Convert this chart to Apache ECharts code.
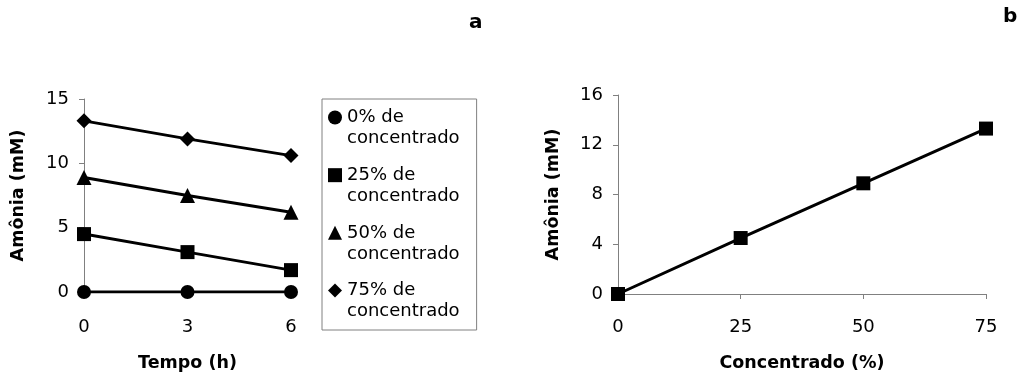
<!DOCTYPE html>
<html>
<head>
<meta charset="utf-8">
<script src="https://cdn.jsdelivr.net/npm/echarts@6/dist/echarts.min.js"></script>
<style>
html,body{margin:0;padding:0;background:#fff;}
#chart{width:1021px;height:379px;}
</style>
</head>
<body>
<div id="chart"></div>
<script>
// ---- Data (chart a) ----
const tempo = [0, 3, 6];
const seriesNames = ['0% de\nconcentrado', '25% de\nconcentrado', '50% de\nconcentrado', '75% de\nconcentrado'];
const conc0 = [0, 0, 0];
const conc25 = [4.5, 3.1, 1.7];
const conc50 = [8.9, 7.5, 6.2];
const conc75 = [13.3, 11.9, 10.6];
const yTicksA = [0, 5, 10, 15];
// ---- Data (chart b) ----
const concentrado = [0, 25, 50, 75];
const amoniaB = [0, 4.5, 8.9, 13.3];
const yTicksB = [0, 4, 8, 12, 16];

const FONT = 'DejaVu Sans';
const AXIS_GRAY = '#808080';
const symbols = ['circle', 'rect', 'triangle', 'diamond'];
const symbolSizes = [14, 14, 15, 15];
const valuesA = [conc0, conc25, conc50, conc75];

const pairs = (xs, ys) => xs.map((x, i) => [x, ys[i]]);

const chart = echarts.init(document.getElementById('chart'), null, {renderer: 'canvas'});

const axisCommonY = {
  type: 'value',
  axisLine: {show: true, lineStyle: {color: AXIS_GRAY, width: 1}},
  axisTick: {show: true, length: 5, lineStyle: {color: AXIS_GRAY}},
  splitLine: {show: false},
  axisLabel: {color: '#000', fontFamily: FONT, fontSize: 18, margin: 15},
  nameLocation: 'middle',
  nameTextStyle: {color: '#000', fontFamily: FONT, fontSize: 17.5, fontWeight: 'bold'}
};

const seriesA = valuesA.map((vals, i) => ({
  name: seriesNames[i],
  type: 'line',
  xAxisIndex: 0,
  yAxisIndex: 0,
  data: pairs(tempo, vals),
  symbol: symbols[i],
  symbolSize: symbolSizes[i],
  showAllSymbol: true,
  lineStyle: {color: '#000', width: 3},
  itemStyle: {color: '#000'},
  emphasis: {disabled: true},
  z: 3
}));

const option = {
  animation: false,
  backgroundColor: '#fff',
  title: [
    {text: 'a', left: 469, top: 13, padding: 0,
     textStyle: {fontFamily: FONT, fontSize: 20, fontWeight: 'bold', color: '#000'}},
    {text: 'b', left: 1003, top: 7, padding: 0,
     textStyle: {fontFamily: FONT, fontSize: 20, fontWeight: 'bold', color: '#000'}}
  ],
  legend: {
    left: 322,
    top: 99,
    orient: 'vertical',
    selectedMode: false,
    itemWidth: 14,
    itemHeight: 14,
    itemGap: -5.33,
    padding: [-13, 17, 8, 6],
    borderColor: AXIS_GRAY,
    borderWidth: 1,
    backgroundColor: '#fff',
    textStyle: {fontFamily: FONT, fontSize: 18, color: '#000', lineHeight: 21},
    formatter: n => ' \n' + n,
    data: seriesNames.map((n, i) => ({name: n, icon: symbols[i]}))
  },
  grid: [
    {left: 84, top: 99, width: 207, height: 193, containLabel: false},
    {left: 618, top: 95, width: 368, height: 199, containLabel: false}
  ],
  xAxis: [
    {
      gridIndex: 0, type: 'value', min: 0, max: 6, interval: 3,
      axisLine: {show: true, lineStyle: {color: AXIS_GRAY, width: 1}},
      axisTick: {show: false},
      splitLine: {show: false},
      axisLabel: {color: '#000', fontFamily: FONT, fontSize: 18, margin: 26},
      name: 'Tempo (h)', nameLocation: 'middle', nameGap: 62,
      nameTextStyle: {color: '#000', fontFamily: FONT, fontSize: 17.5, fontWeight: 'bold'}
    },
    {
      gridIndex: 1, type: 'value', min: 0, max: 75, interval: 25,
      axisLine: {show: true, lineStyle: {color: AXIS_GRAY, width: 1}},
      axisTick: {show: true, length: 5, lineStyle: {color: AXIS_GRAY}},
      splitLine: {show: false},
      axisLabel: {color: '#000', fontFamily: FONT, fontSize: 18, margin: 24},
      name: 'Concentrado (%)', nameLocation: 'middle', nameGap: 60,
      nameTextStyle: {color: '#000', fontFamily: FONT, fontSize: 17.5, fontWeight: 'bold'}
    }
  ],
  yAxis: [
    Object.assign({}, axisCommonY, {
      gridIndex: 0, min: yTicksA[0], max: yTicksA[yTicksA.length - 1], interval: yTicksA[1] - yTicksA[0],
      name: 'Amônia (mM)', nameGap: 57
    }),
    Object.assign({}, axisCommonY, {
      gridIndex: 1, min: yTicksB[0], max: yTicksB[yTicksB.length - 1], interval: yTicksB[1] - yTicksB[0],
      name: 'Amônia (mM)', nameGap: 56
    })
  ],
  series: seriesA.concat([{
    name: 'Amônia',
    type: 'line',
    xAxisIndex: 1,
    yAxisIndex: 1,
    data: pairs(concentrado, amoniaB),
    symbol: 'rect',
    symbolSize: 14,
    lineStyle: {color: '#000', width: 3},
    itemStyle: {color: '#000'},
    emphasis: {disabled: true},
    z: 3
  }])
};

chart.setOption(option);
</script>
</body>
</html>
